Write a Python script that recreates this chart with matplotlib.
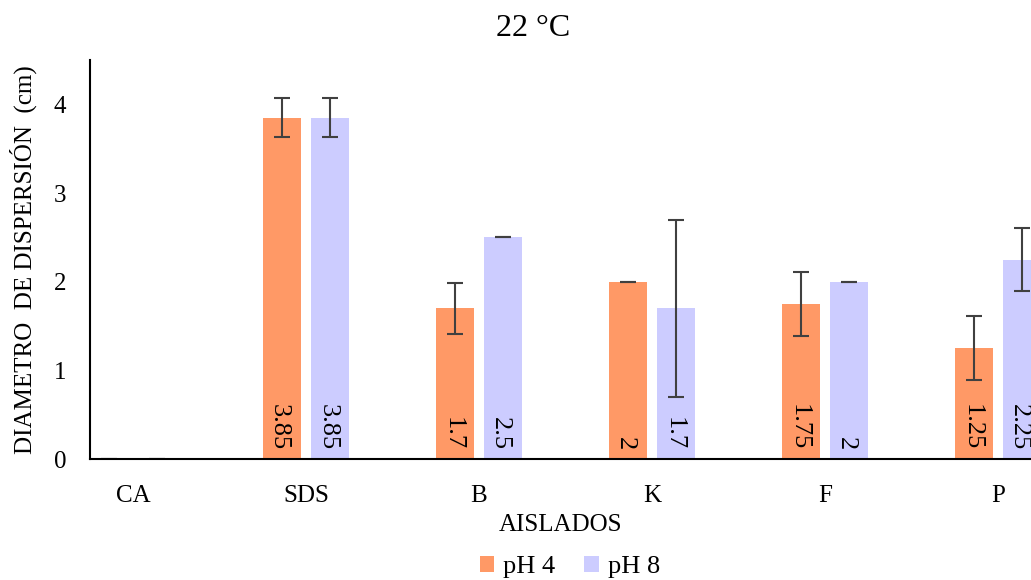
import numpy as np
import matplotlib
matplotlib.use("Agg")
from matplotlib import pyplot as plt

# data
aislados = ['CA', 'SDS', 'B', 'K', 'F', 'P']
ph4 = [0, 3.85, 1.7, 2, 1.75, 1.25]
ph8 = [0, 3.85, 2.5, 1.7, 2, 2.25]
ph4_err = [0, 0.22, 0.29, 0, 0.36, 0.36]
ph8_err = [0, 0.22, 0, 1.0, 0, 0.36]

plt.rcParams['font.family'] = ['Liberation Serif', 'DejaVu Serif']

fig = plt.figure(figsize=(10.31, 5.8), dpi=100)
# axes run off the right edge like the cropped original
ax = fig.add_axes([90/1031, 1 - 459/580, 1 - 90/1031, (459 - 60)/580])

x = np.arange(len(aislados))
w = 0.22
off = 0.139
err_kw = dict(ecolor='#404040', elinewidth=1.5, capsize=6, capthick=1.5)
b1 = ax.bar(x - off, ph4, w, color='#FF9966', label='pH 4', yerr=ph4_err, error_kw=err_kw)
b2 = ax.bar(x + off, ph8, w, color='#CCCCFF', label='pH 8', yerr=ph8_err, error_kw=err_kw)

# value labels inside the bars, rotated
for bars, vals in ((b1, ph4), (b2, ph8)):
    for rect, v in zip(bars, vals):
        if v == 0 and rect.get_x() < 0.5:
            continue
        ax.annotate(f'{v:g}', (rect.get_x() + rect.get_width()/2, 0.1),
                    xytext=(-2, 0), textcoords='offset points', rotation=-90,
                    ha='center', va='bottom', fontsize=19, color='black')

ax.set_xlim(-43/173, (1031 - 133)/173)
ax.set_ylim(0, 4.5)
ax.set_yticks([0, 1, 2, 3, 4])
ax.set_xticks(x)
ax.set_xticklabels(aislados)
ax.tick_params(axis='both', length=0, labelsize=18)
ax.tick_params(axis='x', pad=19)
ax.tick_params(axis='y', pad=17)
for s in ['top', 'right']:
    ax.spines[s].set_visible(False)
ax.spines['left'].set_linewidth(1.5)
ax.spines['bottom'].set_linewidth(1.5)

ax.set_xlabel('AISLADOS', fontsize=18, labelpad=5)
ax.set_ylabel('DIAMETRO  DE DISPERSIÓN  (cm)', fontsize=18, labelpad=12)
fig.text(533/1031, 1 - 28/580, '22 °C', ha='center', va='center', fontsize=23)

fig.legend(handles=[b1, b2], labels=['pH 4', 'pH 8'], loc='center',
           bbox_to_anchor=(570/1031, 1 - 567/580), ncol=2, frameon=False,
           fontsize=19, handlelength=0.55, handleheight=0.55, handletextpad=0.35,
           columnspacing=1.1)

fig.savefig('out.png', dpi=100)
